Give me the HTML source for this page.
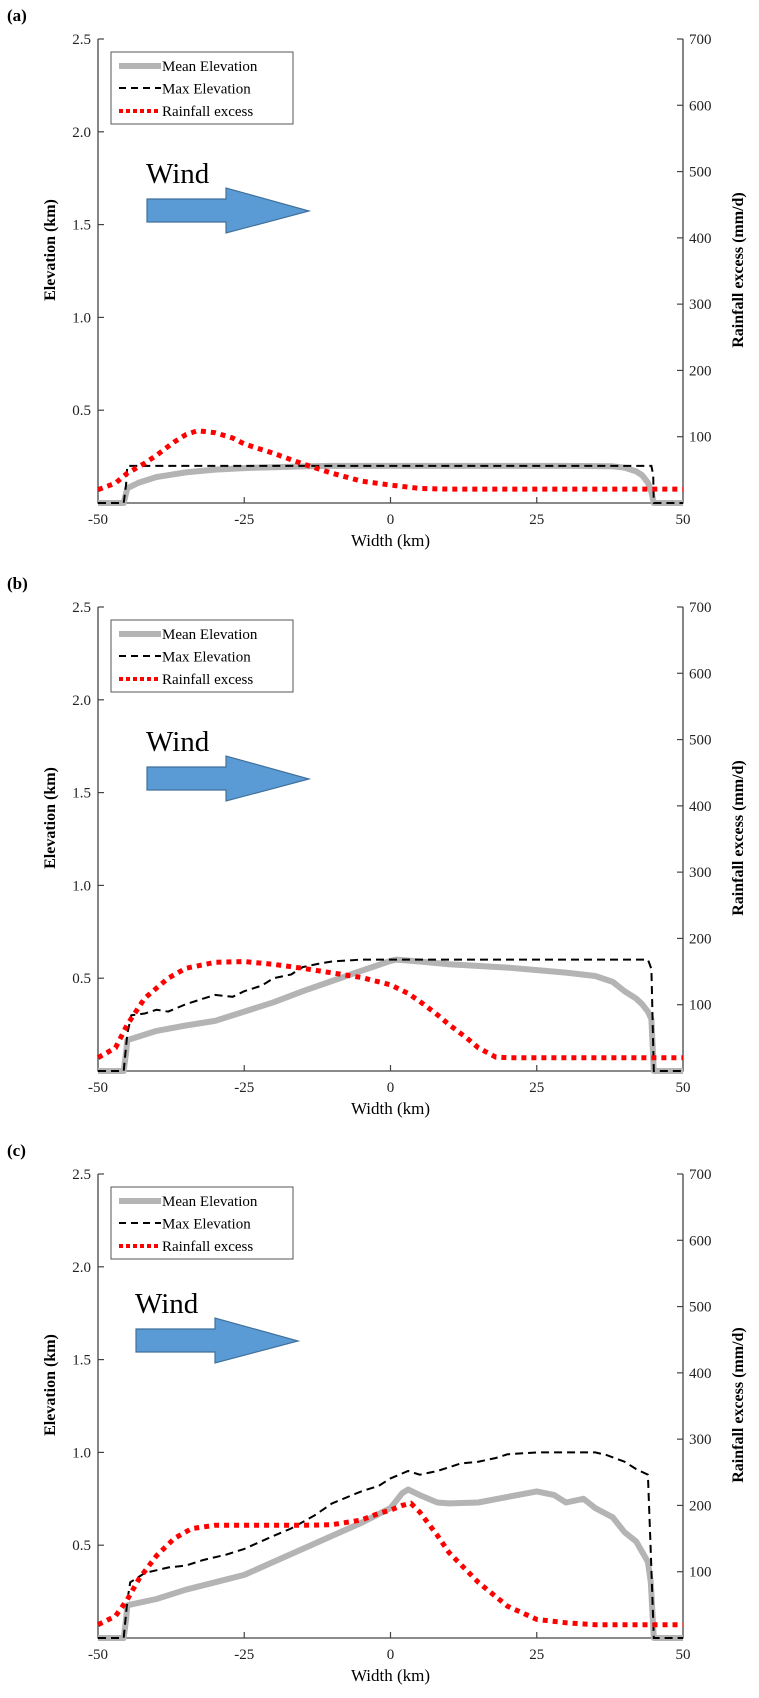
<!DOCTYPE html>
<html><head><meta charset="utf-8"><style>
html,body{margin:0;padding:0;background:#fff}
svg{display:block}
text{font-family:"Liberation Serif",serif}
</style></head><body>
<svg id="fig" width="759" height="1698" viewBox="0 0 759 1698" xmlns="http://www.w3.org/2000/svg"></svg>
<script>
// ---- data ----
const xTicks = [-50, -25, 0, 25, 50];
const elevTicks = [0.5, 1.0, 1.5, 2.0, 2.5];
const rainTicks = [100, 200, 300, 400, 500, 600, 700];
const panelLabels = ['(a)', '(b)', '(c)'];

const aMeanX = [-50,-45.6,-45,-43,-40,-38,-35,-30,-25,-20,-15,-10,0,10,20,30,38,40,42,43,44,44.6,45,50];
const aMeanY = [0,0,0.08,0.11,0.14,0.15,0.165,0.18,0.188,0.193,0.197,0.2,0.2,0.2,0.2,0.2,0.198,0.19,0.17,0.15,0.11,0.06,0,0];
const aMaxX = [-50,-45.6,-45.2,-45,44.6,44.9,45,50];
const aMaxY = [0,0,0.1,0.2,0.2,0.15,0,0];
const aRainX = [-50,-47,-45,-42,-40,-37,-35,-33,-30,-27,-25,-20,-15,-10,-5,0,5,10,20,30,40,50];
const aRainY = [20,30,45,60,72,92,103,109,106,98,89,75,59,45,33,27,22,21,21,21,21,21];

const bMeanX = [-50,-45.6,-45.2,-45,-40,-35,-30,-25,-20,-15,-10,-5,0,1,5,10,20,30,35,38,40,42,43,44,44.6,45,50];
const bMeanY = [0,0,0.1,0.166,0.216,0.245,0.27,0.32,0.37,0.43,0.485,0.54,0.593,0.6,0.59,0.575,0.557,0.53,0.512,0.48,0.43,0.39,0.36,0.32,0.28,0,0];
const bMaxX = [-50,-45.6,-45,-44.3,-42,-40,-38,-35,-33,-30,-27,-25,-22,-20,-17,-15,-12,-10,-5,0,44,44.6,45,50];
const bMaxY = [0,0,0.2,0.3,0.31,0.33,0.32,0.36,0.38,0.41,0.4,0.43,0.46,0.5,0.52,0.56,0.58,0.59,0.6,0.6,0.6,0.55,0,0];
const bRainX = [-50,-47,-45,-42,-38,-35,-30,-25,-20,-15,-10,-5,0,3,5,8,10,13,15,18,20,50];
const bRainY = [20,35,70,110,140,155,164,165,161,155,148,141,130,117,105,85,70,50,35,21,20,20];

const cMeanX = [-50,-45.6,-45.2,-45,-40,-35,-30,-25,-20,-15,-10,-5,0,2,3,5,8,10,15,20,25,28,30,33,35,38,40,42,44,44.5,45,50];
const cMeanY = [0,0,0.1,0.176,0.21,0.26,0.3,0.34,0.41,0.48,0.55,0.62,0.7,0.78,0.8,0.77,0.73,0.725,0.73,0.76,0.79,0.77,0.73,0.75,0.7,0.65,0.57,0.52,0.41,0.3,0,0];
const cMaxX = [-50,-45.6,-45,-44.5,-42,-38,-35,-32,-28,-25,-20,-17,-13,-10,-5,-2,0,3,5,8,12,15,18,20,25,35,37,40,42,44,44.5,45,50];
const cMaxY = [0,0,0.2,0.3,0.35,0.38,0.39,0.42,0.45,0.48,0.55,0.59,0.66,0.725,0.79,0.82,0.86,0.9,0.88,0.9,0.94,0.95,0.97,0.99,1.0,1.0,0.985,0.95,0.91,0.88,0.46,0,0];
const cRainX = [-50,-47,-45,-43,-40,-37,-34,-30,-25,-20,-15,-10,-5,-2,0,2,3.5,5,8,10,15,20,25,30,35,50];
const cRainY = [20,33,58,89,124,150,165,170,170,170,170,171,178,188,193,200,203,190,155,129,84,48,28,23,20,20];

const meanXs = [aMeanX, bMeanX, cMeanX];
const meanYs = [aMeanY, bMeanY, cMeanY];
const maxXs = [aMaxX, bMaxX, cMaxX];
const maxYs = [aMaxY, bMaxY, cMaxY];
const rainXs = [aRainX, bRainX, cRainX];
const rainYs = [aRainY, bRainY, cRainY];

// ---- layout ----
const NS = 'http://www.w3.org/2000/svg';
const svg = document.getElementById('fig');
const offsets = [0, 568, 1135];
const L = 98, R = 683, T = 39, B = 503;
function xs(v){ return L + (v + 50) / 100 * (R - L); }
function ye(v, o){ return o + B - v / 2.5 * (B - T); }
function yr(v, o){ return o + B - v / 700 * (B - T); }
function mk(tag, attrs, parent){
  const e = document.createElementNS(NS, tag);
  for (const k in attrs) e.setAttribute(k, attrs[k]);
  (parent || svg).appendChild(e);
  return e;
}
function pathD(X, Y, fy, o){
  return X.map((x, i) => (i ? 'L' : 'M') + xs(x).toFixed(1) + ' ' + fy(Y[i], o).toFixed(1)).join(' ');
}

offsets.forEach((o, p) => {
  const g = mk('g', {});
  
  

  const lab = mk('text', {x: 7, y: o + 21, 'font-size': 17, 'font-weight': 'bold'}, g);
  lab.textContent = panelLabels[p];
  
  

  // axes
  const ax = mk('path', {d: `M${L} ${o+T} L${L} ${o+B} L${R} ${o+B} L${R} ${o+T}`, fill: 'none', stroke: '#444', 'stroke-width': 1.3}, g);
  
  

  xTicks.forEach(t => {
    const x = xs(t);
    if (t > -50 && t < 50) mk('line', {x1: x, x2: x, y1: o+B, y2: o+B-6, stroke: '#444', 'stroke-width': 1.2}, g);
    const tl = mk('text', {x: x, y: o+B+21, 'font-size': 15, 'text-anchor': 'middle', fill: '#222'}, g);
    tl.textContent = t;
    
    
  });
  elevTicks.forEach(t => {
    const y = ye(t, o);
    mk('line', {x1: L, x2: L+6, y1: y, y2: y, stroke: '#444', 'stroke-width': 1.2}, g);
    const tl = mk('text', {x: L-7, y: y+5, 'font-size': 15, 'text-anchor': 'end', fill: '#222'}, g);
    tl.textContent = t.toFixed(1);
    
    
  });
  rainTicks.forEach(t => {
    const y = yr(t, o);
    mk('line', {x1: R-6, x2: R, y1: y, y2: y, stroke: '#444', 'stroke-width': 1.2}, g);
    const tl = mk('text', {x: R+6, y: y+5, 'font-size': 15, fill: '#222'}, g);
    tl.textContent = t;
    
    
  });
  const xt = mk('text', {x: (L+R)/2, y: o+B+43, 'font-size': 17, 'text-anchor': 'middle'}, g);
  xt.textContent = 'Width (km)';
  
  
  const yt = mk('text', {x: 0, y: 0, 'font-size': 16, 'font-weight': 'bold', 'text-anchor': 'middle', transform: `translate(55 ${o+250}) rotate(-90)`}, g);
  yt.textContent = 'Elevation (km)';
  
  
  const y2t = mk('text', {x: 0, y: 0, 'font-size': 16, 'font-weight': 'bold', 'text-anchor': 'middle', transform: `translate(743 ${o+270}) rotate(-90)`}, g);
  y2t.textContent = 'Rainfall excess (mm/d)';
  
  

  // series
  const m = mk('path', {d: pathD(meanXs[p], meanYs[p], ye, o), fill: 'none', stroke: '#b4b4b4', 'stroke-width': 6, 'stroke-linejoin': 'round'}, g);
  
  
  const mx = mk('path', {d: pathD(maxXs[p], maxYs[p], ye, o), fill: 'none', stroke: '#000', 'stroke-width': 2, 'stroke-dasharray': '8 5'}, g);
  
  
  const rn = mk('path', {d: pathD(rainXs[p], rainYs[p], yr, o), fill: 'none', stroke: '#ff0000', 'stroke-width': 5, 'stroke-dasharray': '5 5'}, g);
  
  

  // legend
  const lg = mk('g', {}, g);
  
  
  mk('rect', {x: 111, y: o+52, width: 182, height: 72, fill: '#fff', stroke: '#555', 'stroke-width': 1}, lg);
  mk('line', {x1: 119, x2: 161, y1: o+66, y2: o+66, stroke: '#b4b4b4', 'stroke-width': 6}, lg);
  mk('line', {x1: 119, x2: 161, y1: o+88, y2: o+88, stroke: '#000', 'stroke-width': 2, 'stroke-dasharray': '7 5'}, lg);
  mk('line', {x1: 119, x2: 161, y1: o+111, y2: o+111, stroke: '#ff0000', 'stroke-width': 4, 'stroke-dasharray': '4 3'}, lg);
  ['Mean Elevation', 'Max Elevation', 'Rainfall excess'].forEach((s, i) => {
    const t = mk('text', {x: 162, y: o + 71 + i*22.5, 'font-size': 15}, lg);
    t.textContent = s;
    
    
  });

  // wind annotation
  const dx = p === 2 ? -11 : 0, dy = p === 2 ? -5 : 0;
  const w = mk('text', {x: 146 + dx, y: o + 183 + dy, 'font-size': 29}, g);
  w.textContent = 'Wind';
  
  
  const ay = o + 211 + dy;
  const arr = mk('polygon', {points: `${147+dx},${ay-12} ${226+dx},${ay-12} ${226+dx},${ay-23} ${309+dx},${ay} ${226+dx},${ay+22} ${226+dx},${ay+11} ${147+dx},${ay+11}`, fill: '#5b9bd5', stroke: '#41719c', 'stroke-width': 1.2}, g);
  
  
});
</script>
</body></html>
